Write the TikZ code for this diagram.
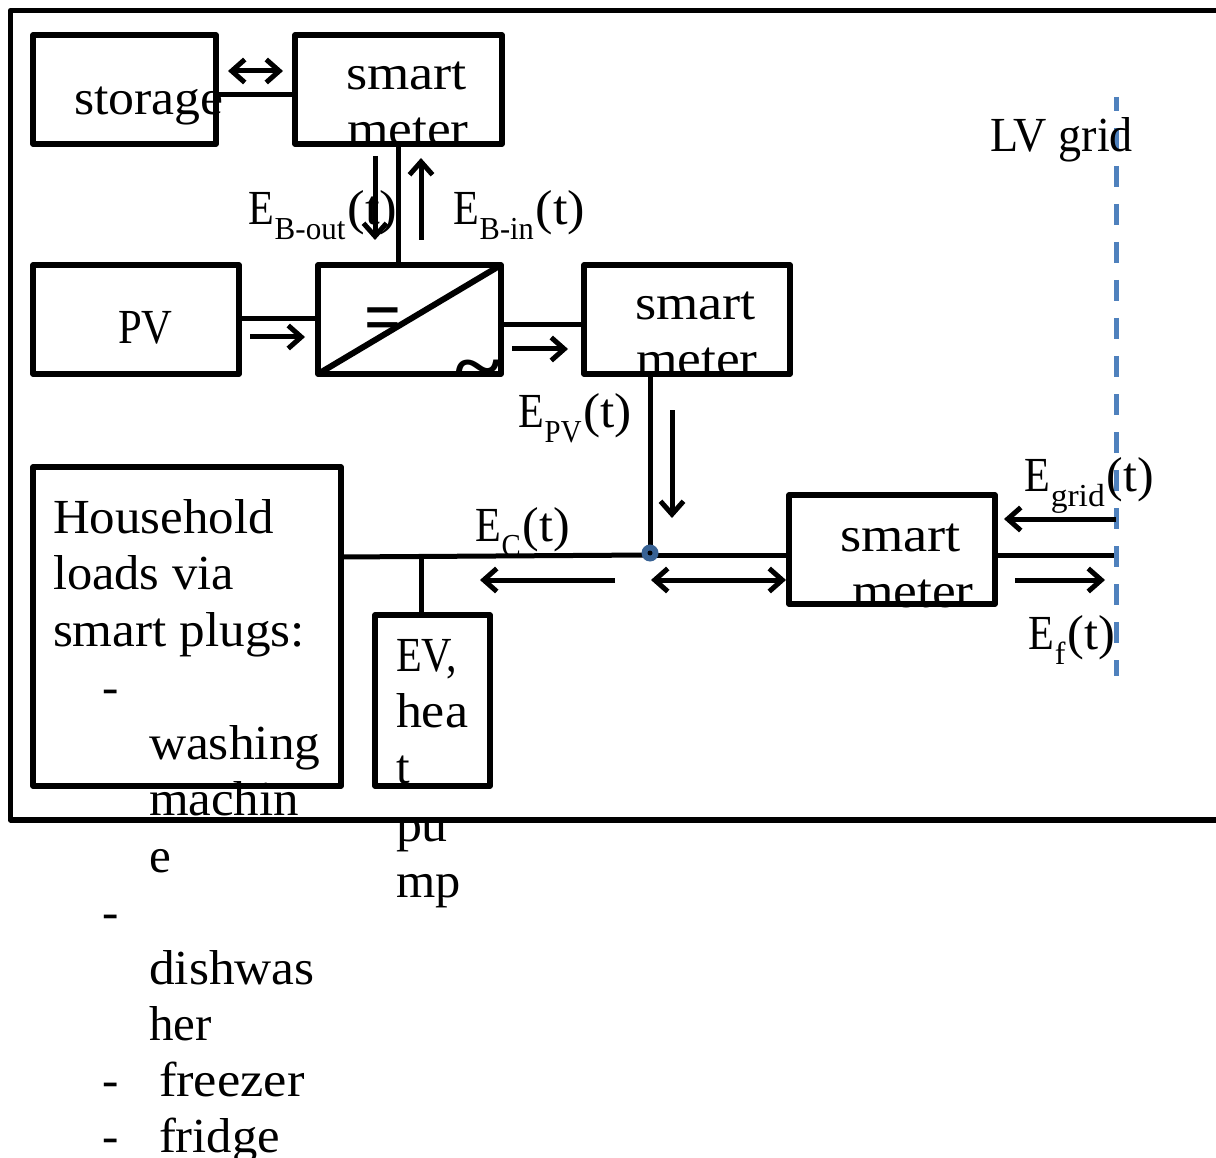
\documentclass[tikz,border=0pt]{standalone}
\usepackage{fontspec}
\setmainfont{Liberation Serif}
\usetikzlibrary{arrows.meta,calc}
\newcommand{\sx}[2]{\scalebox{#1}[1]{#2}}
% E with subscript: sub text, sub stretch, (t) stretch
\newcommand{\Esub}[3]{\sx{.86}{E}\hspace{1pt}\raisebox{-15pt}{\fontsize{32}{32}\selectfont\sx{#2}{#1}}\hspace{2pt}\sx{#3}{(t)}}
\tikzset{
  thick line/.style={line width=5pt},
  box/.style={draw=black,line width=5.5pt,rectangle,inner sep=0pt,outer sep=0pt,line join=round,anchor=north west},
  txt/.style={anchor=base west,inner sep=0pt,outer sep=0pt,font=\fontsize{49}{49}\selectfont},
  barb/.style={thick line,-{Straight Barb[length=13pt,width=23pt,line width=5pt]}},
  dbarb/.style={thick line,{Straight Barb[length=13pt,width=23pt,line width=5pt]}-{Straight Barb[length=13pt,width=23pt,line width=5pt]}}
}
\begin{document}
\begin{tikzpicture}[x=1pt,y=-1pt]
\useasboundingbox (0,0) rectangle (1216,1158);
\fill[white] (0,0) rectangle (1216,1158);
% outer frame, running off the right edge
\draw[line width=5.5pt,line join=round] (1216,10.5) -- (10.5,10.5) -- (10.5,820) -- (1216,820);
% boxes
\node[box,minimum width=183pt,minimum height=109pt] (storage) at (33,35) {};
\node[box,minimum width=207pt,minimum height=109pt] (sm1) at (295,35) {};
\node[box,minimum width=206pt,minimum height=109pt] (pv) at (33,265) {};
\node[box,minimum width=183pt,minimum height=109pt] (inv) at (318,265) {};
\node[box,minimum width=206pt,minimum height=109pt] (sm2) at (584,265) {};
\node[box,minimum width=308pt,minimum height=319pt] (house) at (33,467) {};
\node[box,minimum width=115pt,minimum height=171pt] (ev) at (375,615) {};
\node[box,minimum width=206pt,minimum height=109pt] (sm3) at (789,495) {};
% helpers
\coordinate (grid1) at (1116,97);
\coordinate (grid2) at (1116,676);
\coordinate (gridin) at (1116,555);
\coordinate (y95) at (0,95);
\coordinate (x398) at (398,0);
\coordinate (y319) at (0,319);
\coordinate (y325) at (0,325);
\coordinate (x650) at (650,0);
\coordinate (x421) at (421,0);
\coordinate (yh) at (0,557);
\node[circle,inner sep=0pt,minimum size=0pt] (jn) at (650,555) {};
% connectors
\draw[thick line] (storage.east |- y95) -- (sm1.west |- y95);
\draw[thick line] (sm1.south -| x398) -- (inv.north -| x398);
\draw[thick line] (pv.east |- y319) -- (inv.west |- y319);
\draw[thick line] (inv.east |- y325) -- (sm2.west |- y325);
\draw[thick line] (sm2.south -| x650) -- (jn);
\draw[thick line] (house.east |- yh) -- (jn);
\draw[thick line] (jn) -- (sm3.west |- jn);
\draw[thick line] (sm3.east |- gridin) -- (gridin);
\draw[thick line] (yh -| x421) -- (ev.north -| x421);
% inverter diagonal
\draw[line width=6pt] (inv.south west) -- (inv.north east);
% junction dot
\fill[color={rgb,255:red,56;green,98;blue,148}] (650,553) circle (8.5pt);
\fill[black] (650,553) circle (2.5pt);
% grid line
\draw[line width=5pt,color={rgb,255:red,79;green,129;blue,189},dash pattern=on 21pt off 17pt,dash phase=7pt] (grid1) -- (grid2);
% flow arrows
\draw[dbarb] (228,71) -- (283,71);
\draw[barb] (375,156) -- (375,240);
\draw[barb] (421,240) -- (421,158);
\draw[barb] (250,337) -- (305,337);
\draw[barb] (512,349) -- (568,349);
\draw[barb] (672,410) -- (672,518);
\draw[barb] (615,580) -- (480,580);
\draw[dbarb] (651,580) -- (786,580);
\draw[barb] (1015,580) -- (1105,580);
\draw[barb] (1116,519) -- (1004,519);
% texts
\node[txt] (t1) at (74,115) {\sx{1.057}{storage}};
\node[txt] (t2) at (346,90) {\sx{1.11}{smart}};
\node[txt] (t3) at (347,146) {\sx{1.09}{meter}};
\node[txt] (t4) at (118,344) {\sx{.87}{PV}};
\node[txt] (t5) at (635,320) {\sx{1.11}{smart}};
\node[txt] (t6) at (636,376) {\sx{1.09}{meter}};
\node[txt] (t7) at (840,551) {\sx{1.11}{smart}};
\node[txt] (t8) at (852,607) {\sx{1.09}{meter}};
\node[txt] (h1) at (53,533) {\sx{1.04}{Household}};
\node[txt] (h2) at (53,589) {\sx{1.03}{loads via}};
\node[txt] (h3) at (53,646) {\sx{1.045}{smart plugs:}};
\node[txt] (h4) at (102,703) {-};
\node[txt] (h5) at (149,759) {\sx{1.05}{washing}};
\node[txt] (h6) at (149,815) {\sx{1.04}{machin}};
\node[txt] (h7) at (149,872) {e};
\node[txt] (h8) at (102,928) {-};
\node[txt] (h9) at (149,984) {\sx{1.05}{dishwas}};
\node[txt] (h10) at (149,1040) {her};
\node[txt] (h11) at (102,1096) {-};
\node[txt] (h12) at (159,1096) {\sx{1.07}{freezer}};
\node[txt] (h13) at (102,1152) {-};
\node[txt] (h14) at (159,1152) {\sx{1.035}{fridge}};
\node[txt] (e1) at (396,671) {\sx{.86}{EV,}};
\node[txt] (e2) at (396,727) {\sx{1.06}{hea}};
\node[txt] (e3) at (396,783) {t};
\node[txt] (e4) at (396,841) {\sx{1.06}{pu}};
\node[txt] (e5) at (396,897) {\sx{1.03}{mp}};
\node[txt] (lv) at (990,152) {\sx{.94}{LV grid}};
\node[txt] (l1) at (248,225) {\Esub{B-out}{.97}{1.08}};
\node[txt] (l2) at (453,225) {\Esub{B-in}{.95}{1.07}};
\node[txt] (l3) at (518,428) {\Esub{PV}{.9}{1.05}};
\node[txt] (l4) at (475,541) {\Esub{C}{.9}{1.02}};
\node[txt] (l5) at (1024,491) {\Esub{grid}{1.05}{1.02}};
\node[txt] (l6) at (1028,649) {\Esub{f}{1}{1.03}};
\node[txt,font=\bfseries\fontsize{62}{62}\selectfont] (eq) at (364,343) {\scalebox{1.05}[1.2]{=}};
\node[txt,font=\bfseries\fontsize{72}{72}\selectfont] (tl) at (455,391) {\sx{1.2}{\textasciitilde}};
\end{tikzpicture}
\end{document}
